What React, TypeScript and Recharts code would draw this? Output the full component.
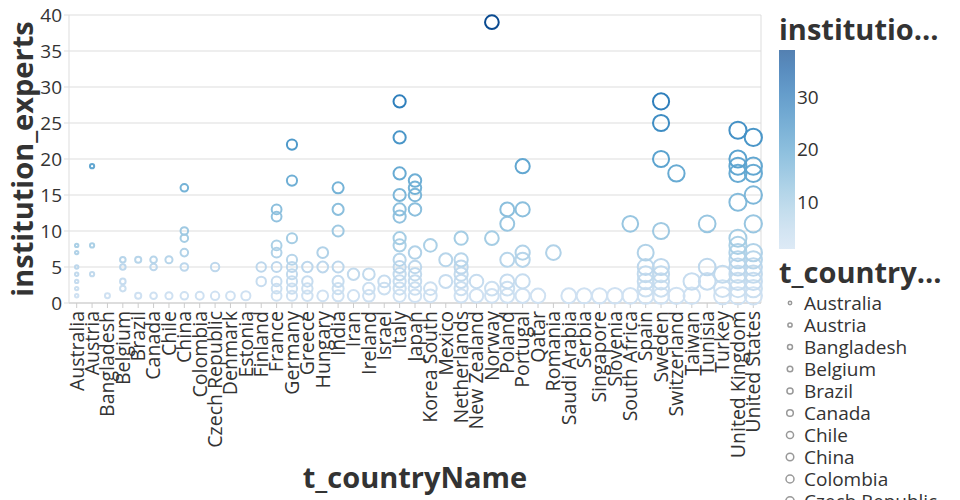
import {
  ScatterChart,
  Scatter,
  XAxis,
  YAxis,
  ZAxis,
  CartesianGrid,
  ReferenceLine,
} from "recharts";

const countries = [
  "Australia", "Austria", "Bangladesh", "Belgium", "Brazil", "Canada", "Chile",
  "China", "Colombia", "Czech Republic", "Denmark", "Estonia", "Finland",
  "France", "Germany", "Greece", "Hungary", "India", "Iran", "Ireland", "Israel",
  "Italy", "Japan", "Korea South", "Mexico", "Netherlands", "New Zealand",
  "Norway", "Poland", "Portugal", "Qatar", "Romania", "Saudi Arabia", "Serbia",
  "Singapore", "Slovenia", "South Africa", "Spain", "Sweden", "Switzerland",
  "Taiwan", "Tunisia", "Turkey", "United Kingdom", "United States",
];

// institution_experts values per country (same order as countries)
const experts: number[][] = [
  [8, 7, 5, 4, 3, 2, 1],
  [19, 8, 4],
  [1],
  [6, 5, 3, 2],
  [6, 1],
  [6, 5, 1],
  [6, 1],
  [16, 10, 9, 7, 5, 1],
  [1],
  [5, 1],
  [1],
  [1],
  [5, 3],
  [13, 12, 8, 7, 5, 3, 2, 1],
  [22, 17, 9, 6, 5, 4, 3, 2, 1],
  [5, 3, 2, 1],
  [7, 5, 1],
  [16, 13, 10, 5, 3, 2, 1],
  [4, 1],
  [4, 2, 1],
  [3, 2],
  [28, 23, 18, 15, 13, 12, 9, 8, 6, 5, 4, 3, 2, 1],
  [17, 16, 15, 13, 7, 5, 4, 3, 2, 1],
  [8, 2, 1],
  [6, 3],
  [9, 6, 5, 4, 3, 2, 1],
  [3, 1],
  [39, 9, 2, 1],
  [13, 11, 6, 3, 2, 1],
  [19, 13, 7, 6, 3, 1],
  [1],
  [7],
  [1],
  [1],
  [1],
  [1],
  [11, 1],
  [7, 5, 4, 3, 2, 1],
  [28, 25, 20, 10, 5, 4, 3, 2, 1],
  [18, 1],
  [3, 1],
  [11, 5, 3],
  [4, 2, 1],
  [24, 20, 19, 18, 14, 9, 8, 7, 6, 5, 4, 3, 2, 1],
  [23, 19, 18, 15, 11, 7, 6, 5, 4, 3, 2, 1],
];

const yTicks = [0, 5, 10, 15, 20, 25, 30, 35, 40];
const colorTicks = [10, 20, 30];
const colorDomain = [1, 39];
// the size legend only has room for its first entries before the page edge
const legendCountries = countries.slice(0, 10);

const BLUES = [
  "#cfe1f2", "#bed8ec", "#a8cee5", "#8fc1de", "#74b2d7", "#5ba3cf",
  "#4592c6", "#3181bd", "#206fb2", "#125ca4", "#0a4a90",
];

function hexToRgb(h: string) {
  return [1, 3, 5].map((i) => parseInt(h.slice(i, i + 2), 16));
}

function blue(v: number) {
  const t = Math.min(1, Math.max(0, (v - colorDomain[0]) / (colorDomain[1] - colorDomain[0])));
  const pos = t * (BLUES.length - 1);
  const i = Math.min(BLUES.length - 2, Math.floor(pos));
  const f = pos - i;
  const a = hexToRgb(BLUES[i]);
  const b = hexToRgb(BLUES[i + 1]);
  const c = a.map((x, k) => Math.round(x + (b[k] - x) * f));
  return `rgb(${c[0]},${c[1]},${c[2]})`;
}

const points = countries
  .flatMap((country, idx) =>
    experts[idx].map((value) => ({ idx, country, value }))
  )
  .sort((a, b) => a.value - b.value);

const SIZE_RANGE = [9, 235];
const TEXT = "#333";
const FONT = "'Open Sans', sans-serif";

const Ring = (props: any) => {
  const { cx, cy, width, size, payload } = props;
  const r = width ? width / 2 : Math.sqrt((size || 0) / Math.PI);
  return (
    <circle
      cx={cx}
      cy={cy}
      r={r}
      fill="none"
      stroke={blue(payload.value)}
      strokeWidth={2}
    />
  );
};

const CountryTick = ({ x, y, payload }: any) => (
  <g transform={`translate(${x},${y})`}>
    <text
      transform="rotate(-90)"
      x={-1}
      dy="0.35em"
      textAnchor="end"
      fill={TEXT}
      fontSize={19.5}
    >
      {countries[payload.value]}
    </text>
  </g>
);

function Legends() {
  const gx = 779;
  const gTop = 50;
  const gBottom = 249;
  const gy = (v: number) =>
    gBottom - ((v - colorDomain[0]) / (colorDomain[1] - colorDomain[0])) * (gBottom - gTop);
  return (
    <svg
      width={960}
      height={500}
      style={{ position: "absolute", left: 0, top: 0, pointerEvents: "none", fontFamily: FONT }}
    >
      <defs>
        <linearGradient id="blues" x1="0" y1="1" x2="0" y2="0">
          {BLUES.map((c, i) => (
            <stop key={i} offset={i / (BLUES.length - 1)} stopColor={c} stopOpacity={0.7} />
          ))}
        </linearGradient>
      </defs>
      <text x={779} y={40} fontSize={29} fontWeight={700} fill={TEXT}>
        institutio…
      </text>
      <rect x={gx} y={gTop} width={16} height={gBottom - gTop} fill="url(#blues)" />
      {colorTicks.map((t) => (
        <text key={t} x={797} y={gy(t)} dy="0.35em" fontSize={19} fill={TEXT}>
          {t}
        </text>
      ))}
      <text x={779} y={283} fontSize={29} fontWeight={700} fill={TEXT}>
        t_country…
      </text>
      {legendCountries.map((c, i) => {
        const area = SIZE_RANGE[0] + ((SIZE_RANGE[1] - SIZE_RANGE[0]) * i) / (countries.length - 1);
        const r = Math.sqrt(area / Math.PI);
        const cy = 303 + i * 22;
        return (
          <g key={c}>
            <circle cx={790} cy={cy} r={r} fill="none" stroke="#999" strokeWidth={1.5} />
            <text x={804} y={cy} dy="0.35em" fontSize={19} fill={TEXT}>
              {c}
            </text>
          </g>
        );
      })}
    </svg>
  );
}

export default function App() {
  return (
    <div
      style={{
        position: "absolute",
        left: 0,
        top: 0,
        width: 960,
        height: 500,
        overflow: "hidden",
        background: "#fff",
        fontFamily: FONT,
      }}
    >
      <ScatterChart
        width={960}
        height={500}
        margin={{ top: 15, right: 199, bottom: 0, left: 15 }}
      >
        <CartesianGrid vertical={false} stroke="#ddd" />
        <XAxis
          type="number"
          dataKey="idx"
          domain={[-0.5, countries.length - 0.5]}
          ticks={countries.map((_, i) => i)}
          interval={0}
          height={197}
          tickSize={5}
          stroke="#ccc"
          tick={<CountryTick />}
          label={{
            value: "t_countryName",
            position: "insideBottom",
            offset: 12,
            fontSize: 29,
            fontWeight: 700,
            fill: TEXT,
          }}
        />
        <YAxis
          type="number"
          dataKey="value"
          domain={[0, 40]}
          ticks={yTicks}
          width={54}
          tickSize={5}
          stroke="#ddd"
          tick={{ fill: TEXT, fontSize: 19 }}
          label={{
            value: "institution_experts",
            angle: -90,
            position: "insideLeft",
            offset: 8,
            fontSize: 29,
            fontWeight: 700,
            fill: TEXT,
            style: { textAnchor: "middle" },
          }}
        />
        <ZAxis
          type="number"
          dataKey="idx"
          domain={[0, countries.length - 1]}
          range={SIZE_RANGE}
        />
        <ReferenceLine x={countries.length - 0.5} stroke="#ddd" />
        <Scatter data={points} shape={<Ring />} isAnimationActive={false} />
      </ScatterChart>
      <Legends />
    </div>
  );
}
